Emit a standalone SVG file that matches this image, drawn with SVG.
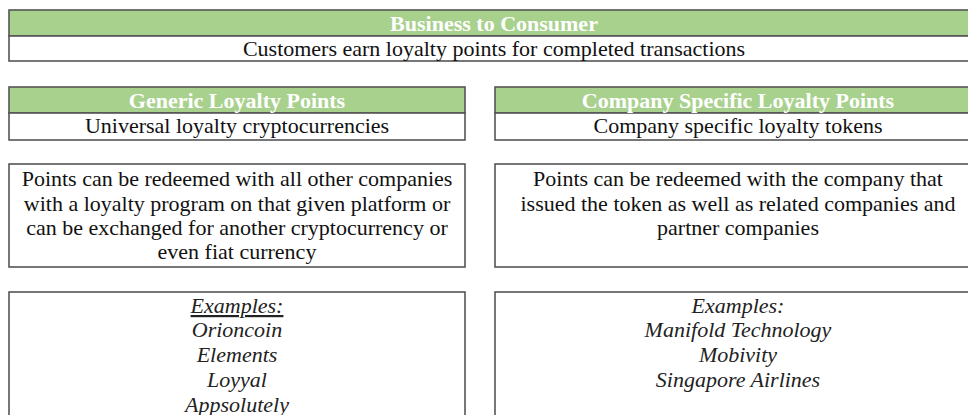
<svg xmlns="http://www.w3.org/2000/svg" width="968" height="415" viewBox="0 0 968 415">
<style>
.box{fill:#ffffff;stroke:#555555;stroke-width:1.6}
.hdr{fill:#a9d18e;stroke:#555555;stroke-width:1.6}
text{font-family:"Liberation Serif","Times New Roman",serif;font-size:22px;fill:#111111;text-anchor:middle}
.w{fill:#ffffff;font-weight:bold}
.i{font-style:italic;fill:#222222}
</style>
<rect width="968" height="415" fill="#ffffff"/>
<g id="b2c">
<rect class="hdr" x="9" y="10" width="971" height="26"/>
<rect class="box" x="9" y="36" width="971" height="25"/>
<text class="w" x="494" y="31">Business to Consumer</text>
<text x="494" y="56">Customers earn loyalty points for completed transactions</text>
</g>
<g id="generic">
<rect class="hdr" x="9" y="87" width="456" height="26"/>
<rect class="box" x="9" y="113" width="456" height="27"/>
<text class="w" x="237" y="108">Generic Loyalty Points</text>
<text x="237" y="133">Universal loyalty cryptocurrencies</text>
</g>
<g id="company">
<rect class="hdr" x="495" y="87" width="487" height="26"/>
<rect class="box" x="495" y="113" width="487" height="27"/>
<text class="w" x="738" y="108">Company Specific Loyalty Points</text>
<text x="738" y="133">Company specific loyalty tokens</text>
</g>
<g id="generic-desc">
<rect class="box" x="9" y="164" width="456" height="103"/>
<text x="237" y="186">Points can be redeemed with all other companies</text>
<text x="237" y="211">with a loyalty program on that given platform or</text>
<text x="237" y="235">can be exchanged for another cryptocurrency or</text>
<text x="237" y="259">even fiat currency</text>
</g>
<g id="company-desc">
<rect class="box" x="495" y="164" width="487" height="103"/>
<text x="738" y="186">Points can be redeemed with the company that</text>
<text x="738" y="211">issued the token as well as related companies and</text>
<text x="738" y="235">partner companies</text>
</g>
<g id="generic-examples">
<rect class="box" x="9" y="292" width="456" height="140"/>
<text class="i" x="237" y="313" text-decoration="underline">Examples:</text>
<text class="i" x="237" y="337">Orioncoin</text>
<text class="i" x="237" y="362">Elements</text>
<text class="i" x="237" y="387">Loyyal</text>
<text class="i" x="237" y="412">Appsolutely</text>
</g>
<g id="company-examples">
<rect class="box" x="495" y="292" width="487" height="140"/>
<text class="i" x="738" y="313">Examples:</text>
<text class="i" x="738" y="337">Manifold Technology</text>
<text class="i" x="738" y="362">Mobivity</text>
<text class="i" x="738" y="387">Singapore Airlines</text>
</g>
<g id="connectors"></g>
</svg>
